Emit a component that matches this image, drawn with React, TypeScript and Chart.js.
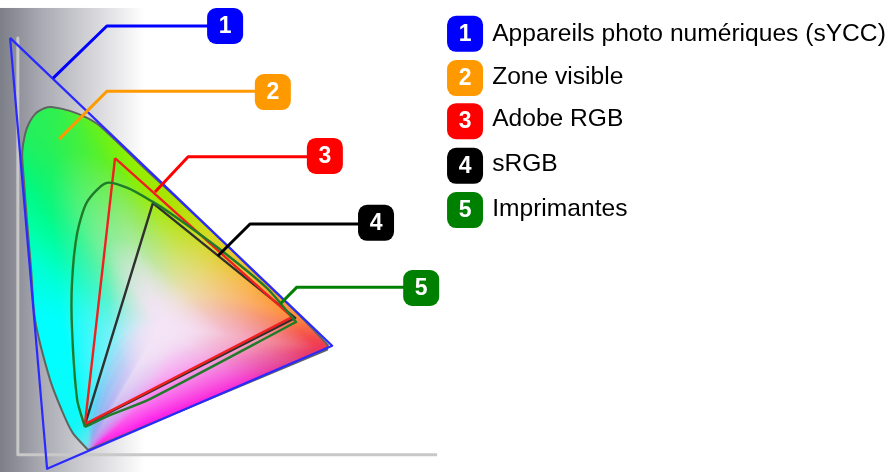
import React, { useEffect, useRef } from "react";
import { Chart, registerables } from "chart.js";

Chart.register(...registerables);

type Pt = { x: number; y: number };
const pts = (a: number[][]): Pt[] => a.map(([x, y]) => ({ x, y }));

// CIE xy chromaticity values (a repeated point keeps a corner sharp)
const visibleZone = [[.158,.005],[.158,.005],[.123,.046],[.100,.095],[.070,.176],[.035,.322],[.026,.444],[.016,.566],[.009,.663],[.005,.720],[.007,.749],[.016,.790],[.035,.824],[.058,.839],[.077,.841],[.116,.832],[.156,.815],[.186,.795],[.302,.680],[.419,.566],[.535,.449],[.651,.332],[.716,.261],[.716,.261],[.714,.249],[.714,.249],[.158,.005],[.158,.005]];
const sycc = [[-.023,1.010],[.726,.259],[.063,-.041],[-.023,1.010]];
const adobe = [[.221,.717],[.633,.329],[.151,.068],[.221,.717]];
const srgb = [[.309,.607],[.640,.327],[.151,.066],[.309,.607]];
const printers = [[.151,.061],[.151,.061],[.133,.127],[.121,.298],[.121,.415],[.133,.534],[.156,.610],[.200,.656],[.250,.644],[.309,.610],[.349,.583],[.458,.500],[.574,.400],[.642,.317],[.642,.317],[.302,.129],[.209,.090],[.151,.061],[.151,.061]];
const axisLines = [[-.005,1.010],[-.005,-.007],[.970,-.007]];

const colors = ["#0000ff", "#ff9900", "#ff0000", "#000000", "#008000"];
const labels = ["Appareils photo numériques (sYCC)", "Zone visible", "Adobe RGB", "sRGB", "Imprimantes"];
const calloutStart = [[.077,.912],[.091,.763],[.314,.634],[.460,.478],[.605,.361]];
const calloutKnee = [[.202,1.039],[.202,.880],[.391,.720],[.535,.556],[.644,.402]];
const badgeCentre = [[.477,1.039],[.588,.878],[.709,.722],[.828,.559],[.933,.400]];
const legendBadgeX = 1.035;
const legendTextX = 1.098;
const legendBadgeY = [1.020,.912,.807,.698,.590];
const legendBaselineY = [1.003,.898,.795,.685,.576];

// colour field of the diagram, read around its white point: angle (degrees), rim colour, falloff, gain
const whitePoint = [.326, .310];
const whiteTint = [244, 228, 246];
const hueAngle = [-7,4,28,63,88,100,109,116,126,133,142,153,175,196,230,237.6,240,241.5,264,326,345,353];
const hueColour = ["f03850","ff9040","f8b840","d4dc20","a8e400","90f000","60f020","30f050","20f060","00f880","00ffa0","00ffd0","00ffff","00ffff","10f8f8","60e8f0","b0b0f0","ff20e8","ff10e8","f828d0","e03c80","f03850"];
const huePower = [1.3,1.3,1.3,1.3,1.2,1.1,1,.8,.7,.6,.6,.6,.8,1.1,1.4,1.6,2.2,2.2,2.2,1.9,1.4,1.3];
const hueGain = [1.1,1.1,1.1,1.1,1.15,1.2,1.25,1.25,1.25,1.25,1.25,1.25,1.25,1.25,1.2,1.1,1,1,1,1,1,1.1];
const hueRgb = hueColour.map((h) => [0, 2, 4].map((i) => parseInt(h.slice(i, i + 2), 16)));

function hueAt(deg: number) {
  let a = deg;
  while (a < hueAngle[0]) a += 360;
  while (a >= hueAngle[0] + 360) a -= 360;
  let i = hueAngle.length - 1;
  for (let k = 0; k < hueAngle.length - 1; k++) {
    if (a >= hueAngle[k] && a < hueAngle[k + 1]) { i = k; break; }
  }
  const j = (i + 1) % hueAngle.length;
  const a0 = hueAngle[i];
  const a1 = j === 0 ? hueAngle[0] + 360 : hueAngle[j];
  const t = (a - a0) / (a1 - a0);
  const mix = (p: number, q: number) => p + (q - p) * t;
  return {
    rgb: [0, 1, 2].map((c) => mix(hueRgb[i][c], hueRgb[j][c])),
    power: mix(huePower[i], huePower[j]),
    gain: mix(hueGain[i], hueGain[j]),
  };
}

function roundedBadge(ctx: CanvasRenderingContext2D, cx: number, cy: number, color: string, digit: string) {
  const s = 36, h = s / 2;
  ctx.fillStyle = color;
  ctx.beginPath();
  ctx.roundRect(cx - h, cy - h, s, s, 9);
  ctx.fill();
  ctx.fillStyle = "#ffffff";
  ctx.font = "bold 23px 'Liberation Sans'";
  ctx.textAlign = "center";
  ctx.textBaseline = "middle";
  ctx.fillText(digit, cx, cy + 1);
}

const ZONE_INDEX = 9;
const SPREAD = [-1, -0.75, -0.5, -0.25, 0, 0.25, 0.5, 0.75, 1];

const gamutPlugin = {
  id: "gamut",
  beforeDatasetsDraw(chart: any) {
    const { ctx, scales: { x: sx, y: sy } } = chart;
    ctx.save();
    const x0 = sx.getPixelForValue(-0.0465), x1 = sx.getPixelForValue(0.29);
    const top = sy.getPixelForValue(1.083), bottom = sy.getPixelForValue(-0.0488);
    const g = ctx.createLinearGradient(x0, 0, x1, 0);
    g.addColorStop(0, "#7c7e88");
    g.addColorStop(0.3, "#abacb4");
    g.addColorStop(0.65, "#d6d6da");
    g.addColorStop(1, "#ffffff");
    ctx.fillStyle = g;
    ctx.fillRect(x0, top, x1 - x0, bottom - top);

    const wx = sx.getPixelForValue(whitePoint[0]), wy = sy.getPixelForValue(whitePoint[1]);
    const poly = visibleZone.map(([x, y]) => [sx.getPixelForValue(x) - wx, wy - sy.getPixelForValue(y)]);
    const rimCache: number[] = [];
    const rim = (deg: number) => {
      const k = ((Math.round(deg * 2) % 720) + 720) % 720;
      if (rimCache[k] !== undefined) return rimCache[k];
      const th = (k / 2) * Math.PI / 180, dx = Math.cos(th), dy = Math.sin(th);
      let best = 1;
      for (let i = 0; i < poly.length - 1; i++) {
        const [ax, ay] = poly[i], [bx, by] = poly[i + 1];
        const ex = bx - ax, ey = by - ay;
        const den = dx * ey - dy * ex;
        if (Math.abs(den) < 1e-9) continue;
        const t = (ax * ey - ay * ex) / den;
        const u = (ax * dy - ay * dx) / den;
        if (t > 0 && u >= 0 && u <= 1 && t > best) best = t;
      }
      rimCache[k] = best;
      return best;
    };

    const w = chart.width, h = chart.height;
    const off = document.createElement("canvas");
    off.width = w; off.height = h;
    const oc = off.getContext("2d")!;
    const img = oc.createImageData(w, h);
    for (let py = 90; py < 460; py++) {
      for (let px = 10; px < 340; px++) {
        const dx = px - wx, dy = wy - py;
        const r = Math.hypot(dx, dy);
        const deg = Math.atan2(dy, dx) * 180 / Math.PI;
        const ratio = r / rim(deg);
        const hue = hueAt(deg);
        const s = Math.pow(Math.min(1, hue.gain * ratio), hue.power) * Math.min(1, ratio / 0.4);
        const spread = 70 * Math.pow(Math.max(0, 1 - ratio), 1.2);
        const rgb = [0, 0, 0];
        for (const o of SPREAD) {
          const c = hueAt(deg + o * spread).rgb;
          rgb[0] += c[0] / SPREAD.length; rgb[1] += c[1] / SPREAD.length; rgb[2] += c[2] / SPREAD.length;
        }
        const i = (py * w + px) * 4;
        for (let c = 0; c < 3; c++) img.data[i + c] = whiteTint[c] + (rgb[c] - whiteTint[c]) * s;
        img.data[i + 3] = 255;
      }
    }
    oc.putImageData(img, 0, 0);
    ctx.beginPath();
    chart.getDatasetMeta(ZONE_INDEX).dataset.path(ctx);
    ctx.closePath();
    ctx.clip();
    ctx.drawImage(off, 0, 0);
    ctx.restore();
  },
  afterDatasetsDraw(chart: any) {
    const { ctx, scales: { x: sx, y: sy } } = chart;
    ctx.save();
    colors.forEach((c, i) => {
      const [bx, by] = badgeCentre[i];
      roundedBadge(ctx, sx.getPixelForValue(bx), sy.getPixelForValue(by), c, String(i + 1));
      roundedBadge(ctx, sx.getPixelForValue(legendBadgeX), sy.getPixelForValue(legendBadgeY[i]), c, String(i + 1));
      ctx.fillStyle = "#000000";
      ctx.font = "24.6px 'Liberation Sans'";
      ctx.textAlign = "left";
      ctx.textBaseline = "alphabetic";
      ctx.fillText(labels[i], sx.getPixelForValue(legendTextX), sy.getPixelForValue(legendBaselineY[i]));
    });
    ctx.restore();
  },
};

export default function App() {
  const ref = useRef<HTMLCanvasElement>(null);
  useEffect(() => {
    const line = (label: string, data: number[][], color: string, width: number, tension = 0) => ({
      label, data: pts(data), borderColor: color, borderWidth: width,
      showLine: true, pointRadius: 0, fill: false, tension,
      borderJoinStyle: "round" as const,
    });
    const callouts = colors.map((c, i) =>
      line(`callout ${i + 1}`, [calloutStart[i], calloutKnee[i], [badgeCentre[i][0], calloutKnee[i][1]]], c, 3));
    const chart = new Chart(ref.current!, {
      type: "scatter",
      data: {
        datasets: [
          ...callouts,
          line("Appareils photo numériques (sYCC)", sycc, "#2a2aff", 2.2),
          line("Imprimantes", printers, "#1f7a2a", 2.4, 0.25),
          line("Adobe RGB", adobe, "#f02020", 2.4),
          line("sRGB", srgb, "#303030", 2.4),
          line("Zone visible", visibleZone, "#606460", 2, 0.25),
          line("Axes", axisLines, "#c8c8c8", 3),
        ],
      },
      options: {
        animation: false,
        responsive: false,
        layout: { padding: 0 },
        plugins: { legend: { display: false }, tooltip: { enabled: false } },
        scales: {
          x: { type: "linear", display: false, min: -20 / 430, max: 868 / 430 },
          y: { type: "linear", display: false, min: -20 / 410, max: 452 / 410 },
        },
      },
      plugins: [gamutPlugin],
    });
    return () => chart.destroy();
  }, []);
  return (
    <div style={{ position: "fixed", left: 0, top: 0, width: 888, height: 472, overflow: "hidden", background: "#fff" }}>
      <canvas ref={ref} width={888} height={472} style={{ display: "block" }} />
    </div>
  );
}
